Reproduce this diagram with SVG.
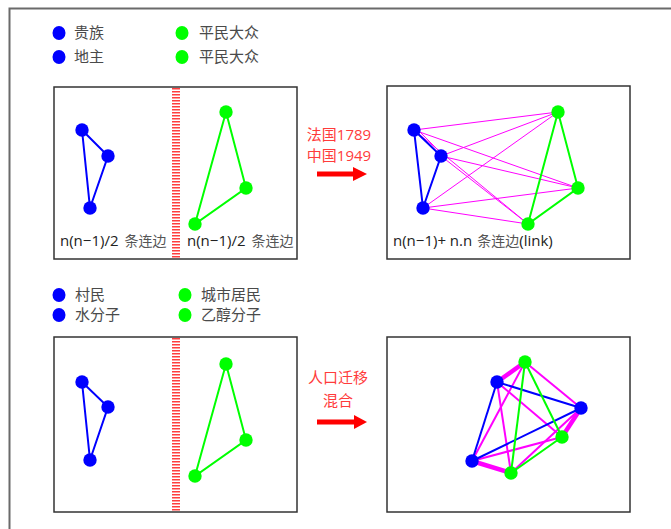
<svg xmlns="http://www.w3.org/2000/svg" width="671" height="529" viewBox="0 0 671 529">
  <style>
    .frame { fill: none; stroke: #6a6a6a; stroke-width: 2; }
    .box { fill: #fff; stroke: #333; stroke-width: 1.5; }
    .stripe { stroke: #ff2a2a; stroke-width: 8; stroke-dasharray: 1.6 1.4; opacity: 0.9; }
    .blue { fill: #0000ff; }
    .green { fill: #00ff00; }
    .eb { stroke: #0000ff; stroke-width: 2; fill: none; }
    .eg { stroke: #00ff00; stroke-width: 2; fill: none; }
    .em { stroke: #ff00ff; stroke-width: 1; fill: none; }
    .em2 { stroke: #ff00ff; stroke-width: 2; fill: none; }
    .em4 { stroke: #ff00ff; stroke-width: 4.5; fill: none; }
    .legend { font-family: "Noto Sans CJK SC", sans-serif; font-size: 15px; fill: #4a4a4a; }
    .count { font-family: "Open Sans", "Noto Sans CJK SC", sans-serif; font-size: 15px; fill: #222; }
    .count tspan.cjk { fill: #555; font-size: 14px; }
    .red { font-family: "Open Sans", "Noto Sans CJK SC", sans-serif; font-size: 15px; fill: #ff3b3b; text-anchor: middle; }
    .arrow { fill: #ff0000; stroke: none; }
  </style>

  <!-- outer frame -->
  <rect class="frame" x="9.5" y="8.5" width="700" height="600"/>

  <!-- legend, top -->
  <g id="legend-top">
    <ellipse class="blue" cx="59" cy="33" rx="6.5" ry="7"/>
    <text class="legend" x="74" y="38">贵族</text>
    <ellipse class="blue" cx="59" cy="57" rx="6.5" ry="7"/>
    <text class="legend" x="74" y="62">地主</text>
    <ellipse class="green" cx="182" cy="33" rx="6.5" ry="7"/>
    <text class="legend" x="199" y="38">平民大众</text>
    <ellipse class="green" cx="182" cy="57" rx="6.5" ry="7"/>
    <text class="legend" x="199" y="62">平民大众</text>
  </g>

  <!-- legend, bottom -->
  <g id="legend-bottom">
    <ellipse class="blue" cx="59" cy="295" rx="6.5" ry="7"/>
    <text class="legend" x="75" y="300">村民</text>
    <ellipse class="blue" cx="59" cy="315" rx="6.5" ry="7"/>
    <text class="legend" x="75" y="320">水分子</text>
    <ellipse class="green" cx="185" cy="295" rx="6.5" ry="7"/>
    <text class="legend" x="201" y="300">城市居民</text>
    <ellipse class="green" cx="185" cy="315" rx="6.5" ry="7"/>
    <text class="legend" x="201" y="320">乙醇分子</text>
  </g>

  <!-- panel 1: two separate groups -->
  <g id="panel-separate">
    <rect class="box" x="54" y="87" width="243" height="172"/>
    <line class="stripe" x1="176" y1="88" x2="176" y2="259"/>
    <g id="connectors-separate">
      <polyline class="eb" points="82,130 108,156 90,208 82,130"/>
      <polyline class="eg" points="226,112 246,188 195,224 226,112"/>
    </g>
    <g id="nodes-separate">
      <circle class="blue" cx="82" cy="130" r="6.7"/>
      <circle class="blue" cx="108" cy="156" r="6.7"/>
      <circle class="blue" cx="90" cy="208" r="6.7"/>
      <circle class="green" cx="226" cy="112" r="6.7"/>
      <circle class="green" cx="246" cy="188" r="6.7"/>
      <circle class="green" cx="195" cy="224" r="6.7"/>
    </g>
    <text class="count" x="60" y="246">n(n−1)/2<tspan class="cjk" dx="6">条连边</tspan></text>
    <text class="count" x="187" y="246">n(n−1)/2<tspan class="cjk" dx="6">条连边</tspan></text>
  </g>

  <!-- transition 1 -->
  <g id="transition-revolution">
    <text class="red" x="339" y="140">法国1789</text>
    <text class="red" x="339" y="161">中国1949</text>
    <rect class="arrow" x="317" y="171.5" width="38" height="5"/>
    <polygon class="arrow" points="353,167 367,174 353,181"/>
  </g>

  <!-- panel 2: fully linked -->
  <g id="panel-linked">
    <rect class="box" x="387" y="86" width="243" height="173"/>
    <g id="connectors-linked">
      <line class="em" x1="414" y1="130" x2="558" y2="112"/>
      <line class="em" x1="414" y1="130" x2="578" y2="188"/>
      <line class="em" x1="414" y1="130" x2="528" y2="224"/>
      <line class="em" x1="416" y1="128" x2="442" y2="154"/>
      <line class="em" x1="441" y1="156" x2="558" y2="112"/>
      <line class="em" x1="441" y1="156" x2="578" y2="188"/>
      <line class="em" x1="441" y1="156" x2="528" y2="224"/>
      <line class="em" x1="423" y1="208" x2="558" y2="112"/>
      <line class="em" x1="423" y1="208" x2="578" y2="188"/>
      <line class="em" x1="423" y1="208" x2="528" y2="224"/>
      <polyline class="eb" points="414,130 441,156 423,208 414,130"/>
      <polyline class="eg" points="558,112 578,188 528,224 558,112"/>
    </g>
    <g id="nodes-linked">
      <circle class="blue" cx="414" cy="130" r="6.7"/>
      <circle class="blue" cx="441" cy="156" r="6.7"/>
      <circle class="blue" cx="423" cy="208" r="6.7"/>
      <circle class="green" cx="558" cy="112" r="6.7"/>
      <circle class="green" cx="578" cy="188" r="6.7"/>
      <circle class="green" cx="528" cy="224" r="6.7"/>
    </g>
    <text class="count" x="393" y="246">n(n−1)+ n.n<tspan class="cjk" dx="5">条连边</tspan>(link)</text>
  </g>

  <!-- panel 3: two separate groups -->
  <g id="panel-separate-2">
    <rect class="box" x="54" y="337" width="243" height="175"/>
    <line class="stripe" x1="176" y1="338" x2="176" y2="511"/>
    <g id="connectors-separate-2">
      <polyline class="eb" points="82,382 108,407 90,460 82,382"/>
      <polyline class="eg" points="226,364 246,440 195,476 226,364"/>
    </g>
    <g id="nodes-separate-2">
      <circle class="blue" cx="82" cy="382" r="6.7"/>
      <circle class="blue" cx="108" cy="407" r="6.7"/>
      <circle class="blue" cx="90" cy="460" r="6.7"/>
      <circle class="green" cx="226" cy="364" r="6.7"/>
      <circle class="green" cx="246" cy="440" r="6.7"/>
      <circle class="green" cx="195" cy="476" r="6.7"/>
    </g>
  </g>

  <!-- transition 2 -->
  <g id="transition-migration">
    <text class="red" x="338" y="383">人口迁移</text>
    <text class="red" x="338" y="406">混合</text>
    <rect class="arrow" x="317" y="419.5" width="38" height="5"/>
    <polygon class="arrow" points="354,415 367,422 354,429"/>
  </g>

  <!-- panel 4: mixed -->
  <g id="panel-mixed">
    <rect class="box" x="387" y="337" width="243" height="175"/>
    <g id="connectors-mixed">
      <line class="em4" x1="497" y1="382" x2="525" y2="362"/>
      <line class="em4" x1="472" y1="461" x2="511" y2="473"/>
      <line class="em4" x1="581" y1="408" x2="562" y2="437"/>
      <line class="em2" x1="525" y1="362" x2="472" y2="461"/>
      <line class="em2" x1="525" y1="362" x2="581" y2="408"/>
      <line class="em2" x1="497" y1="382" x2="511" y2="473"/>
      <line class="em2" x1="497" y1="382" x2="562" y2="437"/>
      <line class="em2" x1="472" y1="461" x2="562" y2="437"/>
      <line class="em2" x1="581" y1="408" x2="511" y2="473"/>
      <line class="eb" x1="497" y1="382" x2="581" y2="408"/>
      <line class="eb" x1="497" y1="382" x2="472" y2="461"/>
      <line class="eb" x1="472" y1="461" x2="581" y2="408"/>
      <line class="eg" x1="525" y1="362" x2="511" y2="473"/>
      <line class="eg" x1="525" y1="362" x2="562" y2="437"/>
      <line class="eg" x1="562" y1="437" x2="511" y2="473"/>
    </g>
    <g id="nodes-mixed">
      <circle class="blue" cx="497" cy="382" r="6.7"/>
      <circle class="blue" cx="581" cy="408" r="6.7"/>
      <circle class="blue" cx="472" cy="461" r="6.7"/>
      <circle class="green" cx="525" cy="362" r="6.7"/>
      <circle class="green" cx="562" cy="437" r="6.7"/>
      <circle class="green" cx="511" cy="473" r="6.7"/>
    </g>
  </g>
</svg>
